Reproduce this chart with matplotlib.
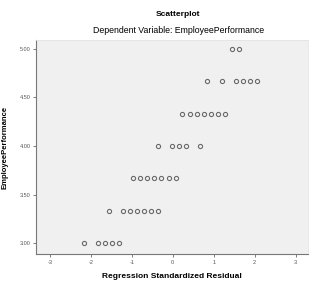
import matplotlib
matplotlib.use("Agg")
import matplotlib.pyplot as plt

plt.rcParams['font.family'] = ['Liberation Sans', 'DejaVu Sans']

# regression standardized residual vs employee performance
resid_500 = [1.44, 1.62]
resid_467 = [0.84, 1.19, 1.54, 1.71, 1.88, 2.05]
resid_433 = [0.23, 0.41, 0.59, 0.76, 0.93, 1.10, 1.28]
resid_400 = [-0.37, -0.02, 0.15, 0.32, 0.67]
resid_367 = [-0.96, -0.79, -0.62, -0.45, -0.28, -0.10, 0.07]
resid_333 = [-1.56, -1.22, -1.05, -0.88, -0.70, -0.53, -0.36]
resid_300 = [-2.17, -1.82, -1.65, -1.48, -1.31]
levels = [5.0, 4.6667, 4.3333, 4.0, 3.6667, 3.3333, 3.0]
groups = [resid_500, resid_467, resid_433, resid_400, resid_367, resid_333, resid_300]

x_ticks = [-3, -2, -1, 0, 1, 2, 3]
y_ticks = [3.0, 3.5, 4.0, 4.5, 5.0]

fig = plt.figure(figsize=(3.09, 2.81), dpi=100)
ax = fig.add_axes([0.1165, 0.096, 0.88, 0.762])
ax.set_facecolor('#f0f0f0')

for lvl, g in zip(levels, groups):
    ax.plot(g, [lvl] * len(g), 'o', ms=3.0, mfc='none', mec='#6a6a6a', mew=0.8)

ax.set_xlim(-3.34, 3.30)
ax.set_ylim(2.89, 5.09)
ax.set_xticks(x_ticks)
ax.set_xticklabels([str(t) for t in x_ticks])
ax.set_yticks(y_ticks)
ax.set_yticklabels(['%.2f' % t for t in y_ticks])
ax.tick_params(labelsize=4, labelcolor='#555555', length=2.5, width=0.6, color='#666666', pad=1.5)

for s in ['left', 'bottom']:
    ax.spines[s].set_color('#777777')
    ax.spines[s].set_linewidth(0.8)
for s in ['top', 'right']:
    ax.spines[s].set_color('#e4e4e4')
    ax.spines[s].set_linewidth(0.6)

ax.set_xlabel('Regression Standardized Residual', fontsize=6, fontweight='bold', labelpad=6)
ax.set_ylabel('EmployeePerformance', fontsize=5.5, fontweight='bold', labelpad=8)

fig.text(0.5765, 0.95, 'Scatterplot', ha='center', va='center', fontsize=6, fontweight='bold')
fig.text(0.5765, 0.893, 'Dependent Variable: EmployeePerformance', ha='center', va='center', fontsize=6.3)

fig.savefig('out.png', dpi=100)
